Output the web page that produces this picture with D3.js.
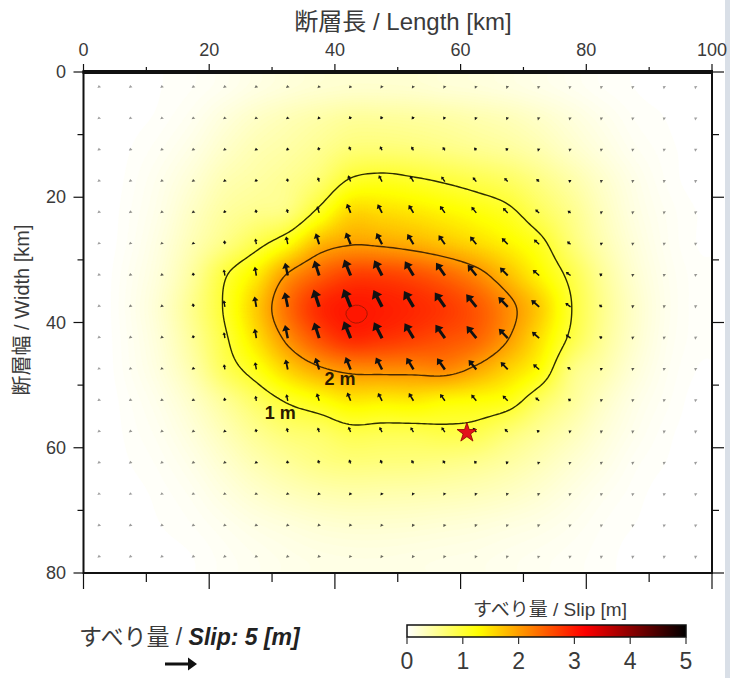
<!DOCTYPE html>
<html><head><meta charset="utf-8">
<script src="https://cdn.jsdelivr.net/npm/d3@7"></script>
<style>body{margin:0;background:#fff} svg{display:block}</style>
</head><body>
<svg id="chart" width="730" height="678"></svg>
<script>
// ---------- data ----------
const xCenters = [2.5,7.5,12.5,17.5,22.5,27.5,32.5,37.5,42.5,47.5,52.5,57.5,62.5,67.5,72.5,77.5,82.5,87.5,92.5,97.5];
const yCenters = [2.5,7.5,12.5,17.5,22.5,27.5,32.5,37.5,42.5,47.5,52.5,57.5,62.5,67.5,72.5,77.5];
const slipRows = [
  [0,0,.02,.04,.08,.14,.19,.23,.25,.25,.24,.21,.19,.16,.12,.08,.04,.02,.01,0],
  [0,.01,.03,.08,.18,.28,.36,.43,.50,.50,.48,.45,.40,.35,.27,.18,.10,.04,.02,0],
  [0,.02,.06,.14,.27,.38,.45,.55,.68,.70,.67,.62,.56,.50,.40,.27,.16,.07,.03,.01],
  [0,.03,.10,.22,.38,.46,.55,.72,1.05,1.12,1.06,.98,.89,.79,.62,.44,.26,.12,.04,.01],
  [0,.04,.13,.30,.48,.58,.66,1.10,1.56,1.53,1.45,1.34,1.22,1.08,.82,.58,.33,.15,.06,.02],
  [0,.05,.17,.38,.62,.90,1.25,1.79,1.98,1.95,1.86,1.72,1.55,1.35,1.10,.70,.40,.19,.07,.02],
  [0,.07,.21,.50,.97,1.40,2.05,2.45,2.70,2.70,2.60,2.42,2.15,1.76,1.33,.92,.52,.24,.09,.03],
  [0,.08,.25,.58,1.04,1.65,2.35,2.85,3.00,2.96,2.88,2.75,2.52,2.12,1.65,1.02,.58,.28,.10,.03],
  [0,.07,.22,.52,.95,1.49,2.10,2.58,2.86,2.80,2.70,2.58,2.42,2.02,1.50,.94,.54,.26,.09,.03],
  [0,.06,.18,.42,.82,1.16,1.60,1.93,2.10,2.12,2.12,2.15,1.92,1.60,1.25,.65,.42,.20,.07,.02],
  [0,.04,.12,.28,.52,.78,1.04,1.22,1.41,1.38,1.40,1.30,1.25,1.15,.80,.52,.29,.13,.05,.01],
  [0,.03,.08,.19,.36,.55,.70,.77,.90,.88,.88,.92,.88,.70,.52,.36,.20,.09,.03,.01],
  [0,.02,.05,.12,.24,.38,.50,.60,.65,.64,.63,.60,.55,.46,.35,.23,.13,.05,.02,.01],
  [0,.01,.03,.07,.15,.24,.32,.38,.41,.40,.39,.37,.34,.29,.22,.14,.07,.03,.01,0],
  [0,.01,.02,.04,.08,.13,.17,.21,.23,.23,.22,.20,.18,.15,.12,.08,.04,.02,.01,0],
  [0,0,.01,.02,.05,.08,.11,.13,.14,.14,.13,.12,.11,.09,.07,.05,.03,.01,0,0]
];
const rakeByColumn = [100,100,100,100,100,100,102,108,112,117,121,125,129,134,139,144,145,145,145,145];
const xTicks = [0,20,40,60,80,100];
const xMinorTicks = [10,30,50,70,90];
const yTicks = [0,20,40,60,80];
const yMinorTicks = [10,30,50,70];
const contourLevels = [1,2,3];
const hypocenter = [61, 57.6];
const colorStops = [0, 1.27, 3.175, 5];
const colorValues = ["#ffffff","#ffff00","#ff0000","#000000"];
const colorbarTicks = [0,1,2,3,4,5];
const legendSlip = 5;

// ---------- setup ----------
const svg = d3.select("#chart");
const FONT = "'Liberation Sans','Noto Sans CJK JP',Arial,sans-serif";
const x = d3.scaleLinear().domain([0,100]).range([83.5,712]);
const y = d3.scaleLinear().domain([0,80]).range([72,573]);
const color = d3.scaleLinear().domain(colorStops).range(colorValues).clamp(true);
const arrowLen = d3.scaleLinear().domain([0,5]).range([0,32]);

svg.append("rect").attr("x",725).attr("y",0).attr("width",5).attr("height",678).attr("fill","#d9dfe7");

// interpolation of the grid onto a fine mesh (Catmull-Rom)
function cr(p0,p1,p2,p3,t){return 0.5*((2*p1)+(-p0+p2)*t+(2*p0-5*p1+4*p2-p3)*t*t+(-p0+3*p1-3*p2+p3)*t*t*t);}
const nCols = xCenters.length, nRows = yCenters.length;
const dxg = xCenters[1]-xCenters[0], dyg = yCenters[1]-yCenters[0];
function sample(xk,yk){
  const u=(xk-xCenters[0])/dxg, v=(yk-yCenters[0])/dyg;
  const i=Math.floor(u), j=Math.floor(v), tx=u-i, ty=v-j;
  const gi=k=>Math.max(0,Math.min(nCols-1,k)), gj=k=>Math.max(0,Math.min(nRows-1,k));
  const rv=[];
  for(let m=-1;m<=2;m++){const r=slipRows[gj(j+m)];rv.push(cr(r[gi(i-1)],r[gi(i)],r[gi(i+1)],r[gi(i+2)],tx));}
  return Math.max(0,cr(rv[0],rv[1],rv[2],rv[3],ty));
}
const res = 0.5, nx = 200, ny = 160;
const values = new Array(nx*ny);
for(let j=0;j<ny;j++)for(let i=0;i<nx;i++)values[j*nx+i]=sample((i+0.5)*res,(j+0.5)*res);

const proj = d3.geoTransform({point(px,py){this.stream.point(x(px*res),y(py*res));}});
const path = d3.geoPath(proj);

svg.append("clipPath").attr("id","plotclip").append("rect")
  .attr("x",x(0)).attr("y",y(0)).attr("width",x(100)-x(0)).attr("height",y(80)-y(0));
const plot = svg.append("g").attr("clip-path","url(#plotclip)");
plot.append("rect").attr("x",x(0)).attr("y",y(0)).attr("width",x(100)-x(0)).attr("height",y(80)-y(0)).attr("fill",color(0));

const thresholds = d3.range(0.02,3.3,0.02);
const bands = d3.contours().size([nx,ny]).thresholds(thresholds)(values);
plot.append("g").selectAll("path").data(bands).join("path")
  .attr("d",path).attr("fill",d=>color(d.value+0.01)).attr("stroke",d=>color(d.value+0.01)).attr("stroke-width",0.3);

// contour lines
const lines = d3.contours().size([nx,ny]).thresholds(contourLevels)(values);
plot.append("g").selectAll("path").data(lines).join("path")
  .attr("d",path).attr("fill","none")
  .attr("stroke",d=>d.value>=3?"#a81800":(d.value>=2?"#4a2a00":"#2e2e00"))
  .attr("stroke-width",d=>d.value>=3?1:1.4);

// arrows
function arrowPath(cx,cy,L,rakeDeg,hlMax,swMax){
  const r=rakeDeg*Math.PI/180, d=[Math.cos(r),-Math.sin(r)], n=[Math.sin(r),Math.cos(r)];
  let hl=Math.min(hlMax,Math.max(2.6,L*0.42)); const hw=hl*0.72;
  const sw=Math.max(0.7,Math.min(swMax,L*0.09));
  if(L<hl)L=hl;
  const P=(u,v)=>[cx+u*d[0]+v*n[0],cy+u*d[1]+v*n[1]];
  const pts=[P(0,-sw),P(L-hl,-sw),P(L-hl,-hw),P(L,0),P(L-hl,hw),P(L-hl,sw),P(0,sw)];
  return "M"+pts.map(p=>p[0].toFixed(2)+","+p[1].toFixed(2)).join("L")+"Z";
}
const arrowData=[];
slipRows.forEach((row,j)=>row.forEach((s,i)=>arrowData.push({x:xCenters[i],y:yCenters[j],s,rake:rakeByColumn[i]})));
plot.append("g").selectAll("path").data(arrowData).join("path")
  .attr("d",d=>arrowPath(x(d.x),y(d.y),arrowLen(d.s),d.rake,8,1.9))
  .attr("fill","#111").attr("opacity",d=>Math.min(1,0.4+d.s*1.5));

// contour labels
const lab = svg.append("g").attr("font-family",FONT).attr("font-weight","bold").attr("font-size",18).attr("fill","#2a1a00").attr("text-anchor","middle");
lab.append("text").attr("x",x(40.8)).attr("y",y(49.1)+6).text("2 m");
lab.append("text").attr("x",x(31.3)).attr("y",y(54.4)+6).text("1 m");

// hypocenter
svg.append("path").attr("d",d3.symbol(d3.symbolStar).size(120)())
  .attr("transform",`translate(${x(hypocenter[0])},${y(hypocenter[1])})`)
  .attr("fill","#e3121b").attr("stroke","#8a0000").attr("stroke-width",0.8);

// frame & ticks
const ax = svg.append("g").attr("stroke","#111");
ax.append("rect").attr("x",x(0)).attr("y",y(0)).attr("width",x(100)-x(0)).attr("height",y(80)-y(0)).attr("fill","none").attr("stroke-width",2);
ax.append("line").attr("x1",x(0)-1).attr("x2",x(100)+1).attr("y1",y(0)).attr("y2",y(0)).attr("stroke-width",4);
ax.selectAll(".tt").data(xTicks).join("line").attr("x1",d=>x(d)).attr("x2",d=>x(d)).attr("y1",y(0)).attr("y2",y(0)-8).attr("stroke-width",1.2);
ax.selectAll(".tm").data(xMinorTicks).join("line").attr("x1",d=>x(d)).attr("x2",d=>x(d)).attr("y1",y(0)).attr("y2",y(0)-5).attr("stroke-width",1.2);
ax.selectAll(".bt").data(xTicks).join("line").attr("x1",d=>x(d)).attr("x2",d=>x(d)).attr("y1",y(80)).attr("y2",y(80)+16).attr("stroke-width",1.2);
ax.selectAll(".bm").data(xMinorTicks).join("line").attr("x1",d=>x(d)).attr("x2",d=>x(d)).attr("y1",y(80)).attr("y2",y(80)+9).attr("stroke-width",1.2);
ax.selectAll(".lt").data(yTicks).join("line").attr("y1",d=>y(d)).attr("y2",d=>y(d)).attr("x1",x(0)).attr("x2",x(0)-10).attr("stroke-width",1.2);
ax.selectAll(".lm").data(yMinorTicks).join("line").attr("y1",d=>y(d)).attr("y2",d=>y(d)).attr("x1",x(0)).attr("x2",x(0)-6).attr("stroke-width",1.2);
ax.selectAll(".rt").data(yTicks).join("line").attr("y1",d=>y(d)).attr("y2",d=>y(d)).attr("x1",x(100)).attr("x2",x(100)+12).attr("stroke-width",1.2);
ax.selectAll(".rm").data(yMinorTicks).join("line").attr("y1",d=>y(d)).attr("y2",d=>y(d)).attr("x1",x(100)).attr("x2",x(100)+7).attr("stroke-width",1.2);

const txt = svg.append("g").attr("font-family",FONT).attr("fill","#3a3a3a");
txt.selectAll(".xl").data(xTicks).join("text").attr("x",d=>x(d)).attr("y",56).attr("text-anchor","middle").attr("font-size",18).text(d=>d);
txt.selectAll(".yl").data(yTicks).join("text").attr("x",66).attr("y",d=>y(d)+6).attr("text-anchor","end").attr("font-size",18).text(d=>d);
txt.append("text").attr("x",403).attr("y",30).attr("text-anchor","middle").attr("font-size",24).text("断層長 / Length [km]");
txt.append("text").attr("transform","translate(29,310) rotate(-90)").attr("text-anchor","middle").attr("font-size",20).text("断層幅 / Width [km]");

// slip arrow legend
const lg = txt.append("text").attr("x",79).attr("y",645).attr("font-size",23);
lg.append("tspan").text("すべり量 / ");
lg.append("tspan").attr("font-weight","bold").attr("font-style","italic").attr("fill","#222").text("Slip: "+legendSlip+" [m]");
svg.append("path").attr("d",arrowPath(165,664,arrowLen(legendSlip),0,9,1.6)).attr("fill","#111");

// colorbar
const cb = d3.scaleLinear().domain([0,5]).range([407,686]);
const grad = svg.append("defs").append("linearGradient").attr("id","cbgrad");
grad.selectAll("stop").data(d3.range(0,5.001,0.1)).join("stop")
  .attr("offset",d=>(d/5*100)+"%").attr("stop-color",d=>color(d));
svg.append("rect").attr("x",cb(0)).attr("y",625).attr("width",cb(5)-cb(0)).attr("height",12)
  .attr("fill","url(#cbgrad)").attr("stroke","#111").attr("stroke-width",1.5);
svg.append("g").attr("stroke","#333").selectAll("line").data(colorbarTicks).join("line")
  .attr("x1",d=>cb(d)).attr("x2",d=>cb(d)).attr("y1",637).attr("y2",644).attr("stroke-width",1.2);
txt.selectAll(".cl").data(colorbarTicks).join("text").attr("x",d=>cb(d)).attr("y",669).attr("text-anchor","middle").attr("font-size",23).text(d=>d);
txt.append("text").attr("x",550).attr("y",616).attr("text-anchor","middle").attr("font-size",19).text("すべり量 / Slip [m]");
</script>
</body></html>
